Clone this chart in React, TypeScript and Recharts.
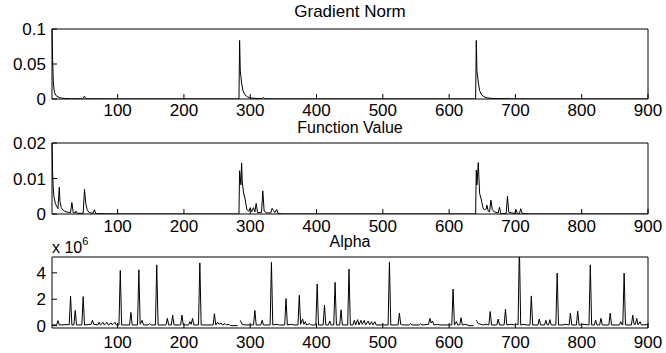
import { LineChart, Line, XAxis, YAxis } from 'recharts';

const FONT = '"Liberation Sans", Arial, Helvetica, sans-serif';

const xTicks = [100, 200, 300, 400, 500, 600, 700, 800, 900];

// Gradient Norm
const gradX = [1, 2, 3, 4, 5, 7, 10, 14, 20, 30, 47, 50, 52, 100, 283, 284, 285, 287, 289, 292, 296, 300, 310, 318, 320, 322, 340, 640, 641, 642, 644, 646, 649, 653, 658, 665, 675, 688, 689, 691, 720, 900];
const gradY = [0.1, 0.055, 0.025, 0.014, 0.009, 0.005, 0.003, 0.0015, 0.0008, 0.0004, 0.0003, 0.004, 0.0003, 0.0001, 0.0001, 0.0836, 0.04, 0.023, 0.012, 0.006, 0.003, 0.0015, 0.0008, 0.0005, 0.0025, 0.0004, 0.0001, 0.0001, 0.0836, 0.04, 0.024, 0.012, 0.006, 0.003, 0.0015, 0.0008, 0.0005, 0.0004, 0.0015, 0.0003, 0.0001, 0.0001];
const gradTicks = [0, 0.05, 0.1];

// Function Value
const funcX = [1, 2, 3, 4, 6, 8, 10, 12, 13, 15, 18, 22, 29, 31, 33, 36, 37, 39, 48, 50, 52, 54, 57, 63, 65, 67, 100, 283, 284, 286, 287, 288, 290, 292, 295, 298, 300, 302, 305, 307, 309, 311, 317, 319, 321, 325, 331, 333, 335, 337, 340, 342, 350, 640, 641, 642, 644, 646, 648, 651, 653, 656, 657, 659, 661, 663, 665, 668, 674, 676, 678, 686, 688, 690, 699, 701, 703, 706, 708, 710, 720, 900];
const funcY = [0.02, 0.0115, 0.007, 0.0048, 0.003, 0.0022, 0.0015, 0.0075, 0.0035, 0.0018, 0.001, 0.0006, 0.0004, 0.0032, 0.0004, 0.0003, 0.0008, 0.0002, 0.0002, 0.0069, 0.003, 0.0012, 0.0004, 0.0002, 0.0012, 0.0001, 0, 0, 0.0122, 0.0082, 0.0144, 0.009, 0.0059, 0.0045, 0.0012, 0.0008, 0.0018, 0.0006, 0.0018, 0.0006, 0.003, 0.0004, 0.0004, 0.0065, 0.0008, 0.0003, 0.0003, 0.0016, 0.001, 0.0004, 0.0013, 0.0001, 0, 0, 0.0124, 0.0082, 0.0145, 0.0058, 0.0045, 0.0018, 0.0012, 0.0014, 0.0025, 0.0008, 0.0006, 0.0039, 0.0013, 0.0006, 0.0003, 0.0019, 0.0001, 0.0001, 0.005, 0.0005, 0.0001, 0.0012, 0.0001, 0.0001, 0.0015, 0.0002, 0, 0];
const funcTicks = [0, 0.01, 0.02];

// Alpha (x 10^6), null = break in the line
const alphaX = [1, 8, 10, 12, 27, 29, 31, 34, 36, 38, 46, 48, 50, 60, 62, 64, 70, 72, 74, 78, 80, 84, 86, 90, 92, 96, 98, 102, 104, 106, 118, 120, 122, 130, 132, 134, 137, 139, 146, 148, 150, 157, 159, 161, 173, 175, 177, 181, 183, 185, 195, 197, 199, 207, 209, 211, 213, 215, 222, 224, 226, 244, 246, 248, 251, 253, 256, 258, 262, 264, 268, 270, 281, 283, 285, 288, 292, 305, 307, 309, 316, 318, 320, 330, 332, 334, 340, 344, 352, 354, 356, 362, 366, 372, 374, 376, 379, 381, 383, 385, 390, 392, 399, 401, 403, 410, 412, 414, 418, 420, 422, 426, 428, 430, 435, 437, 439, 447, 449, 451, 455, 457, 459, 462, 464, 467, 469, 472, 474, 478, 480, 483, 485, 488, 490, 508, 510, 512, 523, 525, 527, 530, 540, 542, 544, 555, 557, 559, 569, 571, 573, 575, 577, 582, 586, 604, 606, 608, 611, 613, 616, 618, 620, 625, 630, 637, 639, 641, 644, 648, 652, 656, 660, 662, 664, 672, 674, 676, 683, 685, 687, 694, 698, 702, 704, 706, 708, 713, 716, 722, 724, 726, 734, 736, 738, 744, 746, 748, 750, 752, 754, 761, 763, 765, 771, 775, 781, 783, 785, 792, 794, 796, 800, 802, 811, 813, 815, 819, 821, 823, 827, 829, 831, 841, 843, 845, 857, 859, 861, 862, 864, 866, 875, 877, 879, 881, 883, 885, 888, 890, 900];
const alphaY = [0.05, 0.05, 0.38, 0.05, 0.08, 2.23, 0.05, 0.05, 1.15, 0.05, 0.05, 2.2, 0.05, 0.1, 0.4, 0.1, 0.05, 0.25, 0.05, 0.25, 0.05, 0.25, 0.05, 0.2, 0.05, 0.25, 0.05, 0.05, 4.18, 0.05, 0.05, 1.0, 0.05, 0.05, 4.23, 0.1, 0.4, 0.05, 0.05, 0.15, 0.05, 0.05, 4.6, 0.05, 0.05, 0.55, 0.05, 0.05, 0.8, 0.05, 0.05, 0.8, 0.05, 0.05, 0.3, 0.1, 0.55, 0.05, 0.05, 4.75, 0.05, 0.05, 0.9, 0.05, 0.25, 0.1, 0.2, 0.05, 0.15, 0.05, 0.1, 0.0, 0.0, null, 0.4, 0.1, 0.05, 0.05, 1.15, 0.05, 0.05, 0.4, 0.05, 0.05, 4.8, 0.05, 0.1, 0.05, 0.05, 2.05, 0.05, 0.1, 0.05, 0.05, 2.3, 0.1, 0.5, 0.1, 0.3, 0.05, 0.15, 0.05, 0.05, 3.15, 0.05, 0.05, 1.55, 0.05, 0.05, 0.35, 0.05, 0.05, 3.28, 0.05, 0.05, 1.2, 0.05, 0.05, 4.28, 0.05, 0.05, 0.4, 0.05, 0.45, 0.05, 0.4, 0.1, 0.4, 0.05, 0.35, 0.05, 0.3, 0.05, 0.3, 0.05, 0.05, 4.8, 0.05, 0.05, 0.95, 0.1, 0.05, 0.05, 0.15, 0.05, 0.05, 0.15, 0.05, 0.1, 0.55, 0.2, 0.35, 0.05, 0.1, 0.05, 0.05, 2.77, 0.05, 0.3, 0.05, 0.05, 0.6, 0.05, 0.1, 0.0, 0.0, null, 0.4, 0.15, 0.1, 0.05, 0.1, 0.05, 1.07, 0.05, 0.05, 0.5, 0.05, 0.05, 1.25, 0.05, 0.1, 0.05, 0.1, 0.05, 6.0, 0.05, 0.1, 0.05, 0.05, 2.25, 0.05, 0.05, 0.5, 0.05, 0.05, 0.4, 0.05, 0.05, 0.45, 0.05, 0.05, 3.98, 0.05, 0.05, 0.1, 0.05, 0.95, 0.05, 0.05, 1.1, 0.05, 0.05, 0.1, 0.05, 4.6, 0.05, 0.05, 0.4, 0.05, 0.05, 0.55, 0.05, 0.05, 0.95, 0.05, 0.05, 0.3, 0.05, 0.05, 3.98, 0.05, 0.05, 0.8, 0.1, 0.1, 0.55, 0.05, 0.3, 0.05, 0.08];
const alphaTicks = [0, 2, 4];

const zip = (xs: number[], ys: (number | null)[]) => xs.map((x, i) => ({ x, y: ys[i] }));

const tickStyle = { fill: '#000', fontSize: 17, fontFamily: FONT };

interface Props {
  top: number;
  height: number;
  marginTop: number;
  marginBottom: number;
  xAxisHeight: number;
  xTickMargin: number;
  data: { x: number; y: number | null }[];
  yDomain: number[];
  yTicks: number[];
}

function Panel({ top, height, marginTop, marginBottom, xAxisHeight, xTickMargin, data, yDomain, yTicks }: Props) {
  return (
    <div style={{ position: 'absolute', left: 0, top }}>
      <LineChart width={666} height={height} data={data} margin={{ top: marginTop, right: 17, bottom: marginBottom, left: 0 }}>
        <XAxis xAxisId="b" dataKey="x" type="number" domain={[1, 900]} ticks={xTicks} height={xAxisHeight}
          tickSize={-5} tickMargin={xTickMargin} tick={tickStyle} stroke="#000" tickLine={{ stroke: '#000' }} interval={0} />
        <XAxis xAxisId="t" dataKey="x" type="number" domain={[1, 900]} ticks={xTicks} orientation="top" height={1}
          tickSize={-5} tick={false} stroke="#000" tickLine={{ stroke: '#000' }} interval={0} />
        <YAxis yAxisId="l" type="number" domain={yDomain} ticks={yTicks} width={52} allowDataOverflow
          tickSize={-5} tickMargin={11} tick={tickStyle} stroke="#000" tickLine={{ stroke: '#000' }} interval={0} />
        <YAxis yAxisId="r" type="number" domain={yDomain} ticks={yTicks} orientation="right" width={1} allowDataOverflow
          tickSize={-5} tick={false} stroke="#000" tickLine={{ stroke: '#000' }} interval={0} />
        <Line xAxisId="b" yAxisId="l" dataKey="y" type="linear" stroke="#000" strokeWidth={1} dot={false}
          connectNulls={false} isAnimationActive={false} />
      </LineChart>
    </div>
  );
}

export default function App() {
  return (
    <div style={{ position: 'absolute', left: 0, top: 0, width: 666, height: 353, background: '#fff', overflow: 'hidden' }}>
      <Panel top={0} height={128} marginTop={28} marginBottom={8} xAxisHeight={21} xTickMargin={10}
        data={zip(gradX, gradY)} yDomain={[0, 0.1]} yTicks={gradTicks} />
      <Panel top={120} height={122} marginTop={22} marginBottom={8} xAxisHeight={20} xTickMargin={11}
        data={zip(funcX, funcY)} yDomain={[0, 0.02]} yTicks={funcTicks} />
      <Panel top={234} height={119} marginTop={22} marginBottom={0} xAxisHeight={25} xTickMargin={13}
        data={zip(alphaX, alphaY)} yDomain={[-0.18, 5.2]} yTicks={alphaTicks} />
      <svg width={666} height={353} style={{ position: 'absolute', left: 0, top: 0, pointerEvents: 'none' }}>
        <g fontFamily={FONT} fill="#000">
          <text x={350} y={17} fontSize={17} textAnchor="middle">Gradient Norm</text>
          <text x={350} y={133} fontSize={16} textAnchor="middle">Function Value</text>
          <text x={350} y={247} fontSize={16} textAnchor="middle">Alpha</text>
          <text x={52} y={253} fontSize={16}>x 10<tspan dy={-8} fontSize={11}>6</tspan></text>
        </g>
      </svg>
    </div>
  );
}
